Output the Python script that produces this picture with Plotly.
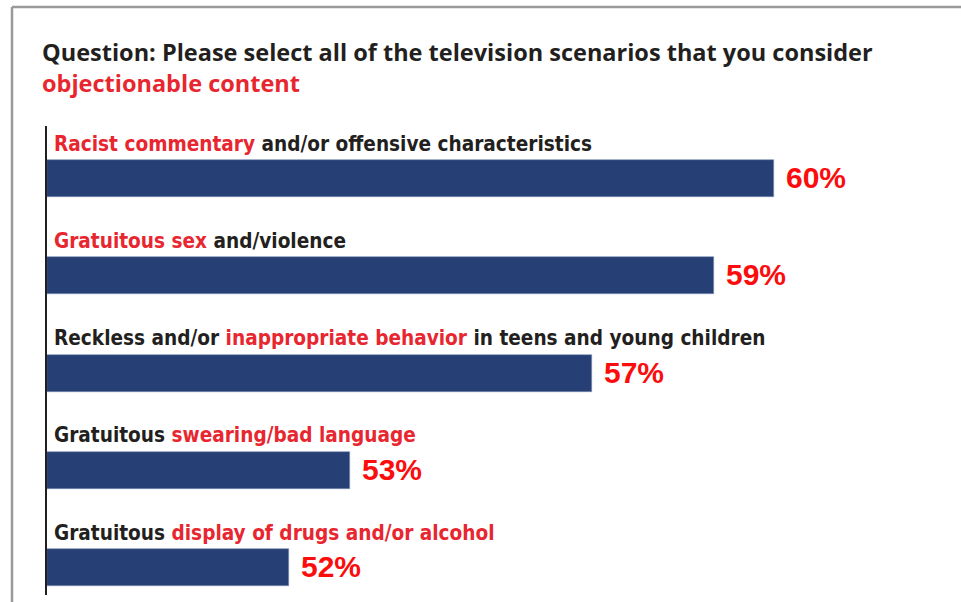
import plotly.graph_objects as go

# data
categories = ["racist", "sex", "reckless", "swearing", "drugs"]
values = [60, 59, 57, 53, 52]
value_labels = ["60%", "59%", "57%", "53%", "52%"]
label_black_pre = ["", "", "Reckless and/or ", "Gratuitous ", "Gratuitous "]
label_red = ["Racist commentary", "Gratuitous sex", "inappropriate behavior",
             "swearing/bad language", "display of drugs and/or alcohol"]
label_black_post = [" and/or offensive characteristics", " and/violence",
                    " in teens and young children", "", ""]

NAVY = "#263f74"
RED = "#e8262f"
VRED = "#fb0d0d"
INK = "#231f20"
BASE = 48
COND = "font-stretch:condensed"

fig = go.Figure()

fig.add_trace(go.Bar(
    x=[v - BASE for v in values],
    base=BASE,
    y=categories,
    orientation="h",
    width=0.38,
    marker=dict(color=NAVY, line=dict(color="#7d8fb5", width=0.6)),
    hoverinfo="skip",
    showlegend=False,
))

# category labels above bars
for c, a, r, b in zip(categories, label_black_pre, label_red, label_black_post):
    txt = ""
    if a:
        txt += f"<span style='color:{INK};{COND}'>{a}</span>"
    txt += f"<span style='color:{RED};{COND}'>{r}</span>"
    if b:
        txt += f"<span style='color:{INK};{COND}'>{b}</span>"
    fig.add_annotation(
        x=BASE, y=c, text=f"<b>{txt}</b>", showarrow=False,
        xanchor="left", yanchor="middle", xshift=5, yshift=35,
        font=dict(family="DejaVu Sans Condensed, DejaVu Sans", size=20.6, color=INK),
    )

# value labels
for c, v, t in zip(categories, values, value_labels):
    fig.add_annotation(
        x=v, y=c, text=f"<b>{t}</b>", showarrow=False,
        xanchor="left", yanchor="middle", xshift=10, yshift=1,
        font=dict(family="Liberation Sans, Arial", size=30, color=VRED),
    )

# title (two lines)
fig.add_annotation(
    x=(40 - 47) / 900, y=(595 - 52) / 469, xref="paper", yref="paper",
    text="<b>Question: Please select all of the television scenarios that you consider</b>",
    showarrow=False, xanchor="left", yanchor="middle",
    font=dict(family="Open Sans", size=23.5, color=INK),
)
fig.add_annotation(
    x=(40 - 47) / 900, y=(595 - 83) / 469, xref="paper", yref="paper",
    text="<b>objectionable content</b>",
    showarrow=False, xanchor="left", yanchor="middle",
    font=dict(family="Open Sans", size=23.5, color=RED),
)

# grey frame (top and left edges visible)
fig.add_shape(type="line", xref="paper", yref="paper",
              x0=(12 - 47) / 900, x1=1.1, y0=(595 - 7) / 469, y1=(595 - 7) / 469,
              line=dict(color="#9a9a9a", width=2.5))
fig.add_shape(type="line", xref="paper", yref="paper",
              x0=(12 - 47) / 900, x1=(12 - 47) / 900, y0=(595 - 7) / 469, y1=-0.1,
              line=dict(color="#9a9a9a", width=2.5))

fig.update_xaxes(range=[BASE, BASE + 900 / 60.6], visible=False, fixedrange=True)
fig.update_yaxes(range=[4.28, -0.54], showticklabels=False, showgrid=False,
                 zeroline=False, showline=True, linecolor="#231f20", linewidth=1.5,
                 ticks="", fixedrange=True)

fig.update_layout(
    width=961, height=602,
    margin=dict(l=47, r=14, t=126, b=7),
    plot_bgcolor="white", paper_bgcolor="white",
    bargap=0,
)

fig.write_html("out.html", config={"displayModeBar": False},
               post_script="document.body.style.margin='0';")
